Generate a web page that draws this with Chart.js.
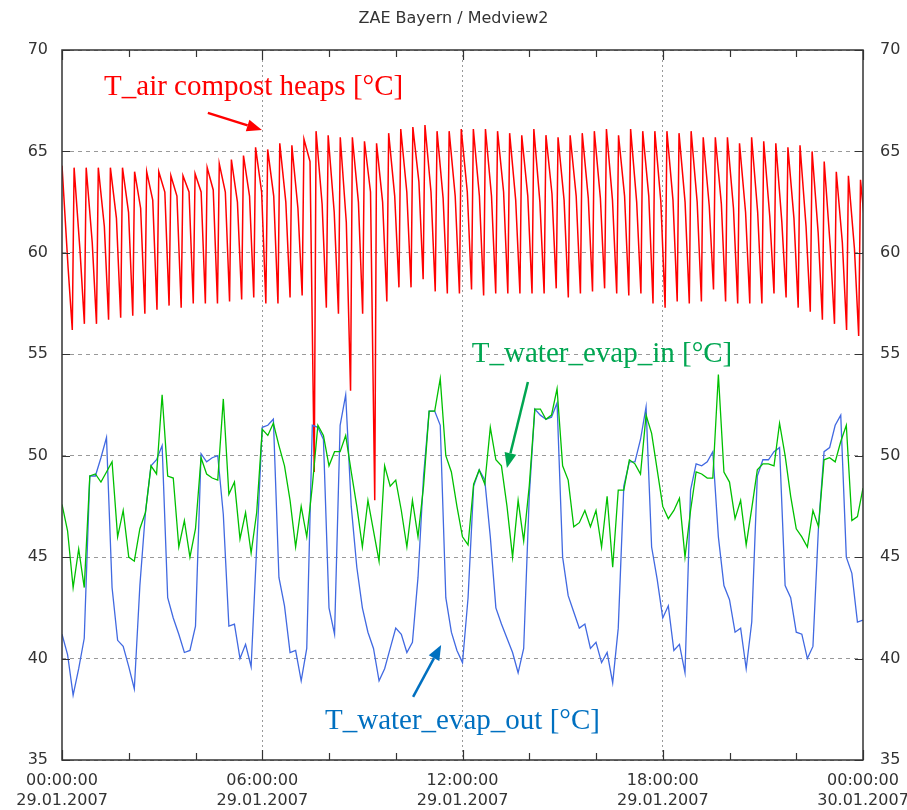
<!DOCTYPE html>
<html>
<head>
<meta charset="utf-8">
<script src="https://cdn.jsdelivr.net/npm/chart.js@4.4.1/dist/chart.umd.min.js"></script>
<style>
  html, body { margin: 0; padding: 0; background: #fff; }
  #wrap { width: 907px; height: 810px; }
</style>
</head>
<body>
<div id="wrap"><canvas id="chart" width="907" height="810"></canvas></div>
<script>
// T_air compost heaps: one peak / shoulder / trough per heating cycle (~21.75 min)
const airPeak = [64.3,64.2,64.2,64.2,64.2,64.2,64.0,64.0,64.0,63.8, 63.8,63.9,64.2,64.4,64.6,64.8,65.2,65.1,65.4,65.3,
  65.6,66.0,65.8,65.7,65.7,65.5,65.4,65.9,66.1,66.2, 66.3,66.0,66.0,66.1,66.1,66.1,66.0,65.9,65.8,66.1,
  65.8,65.7,65.8,65.9,66.0,66.1,65.8,66.1,66.0,66.0, 66.0,65.9,66.0,65.7,65.7,65.7,65.4,65.7,65.5,65.4,
  65.2,65.3,65.0,64.5,64.0,63.8,63.6];
const airShoulder = [59.3,60.0,60.5,61.3,61.7,62.0,62.2,62.6,63.0,62.8, 63.0,63.0,63.1,63.0,62.5,62.8,63.0,62.8,62.5,62.2,
  64.5,62.4,62.0,61.5,62.5,63.0,62.5,62.8,63.0,63.5, 63.0,62.7,62.8,63.0,62.8,62.8,63.0,62.6,62.8,62.5,
  62.9,62.6,62.8,62.7,62.7,62.6,62.8,62.5,62.8,62.5, 62.6,62.5,62.5,62.3,62.4,62.2,62.0,62.0,61.8,61.5,
  61.7,61.3,61.0,60.3,60.5,60.2,60.5];
const airTrough = [56.2,56.5,56.5,56.7,56.8,56.9,57.0,57.2,57.4,57.3, 57.5,57.5,57.5,57.6,57.7,57.8,57.5,57.5,57.8,57.9,
  49.2,57.3,57.0,53.2,57.0,47.8,57.6,58.3,58.3,58.7, 58.1,58.0,58.0,58.2,57.9,58.0,58.0,58.0,58.0,58.0,
  58.25,57.8,58.0,58.1,58.25,58.0,57.9,58.0,57.5,57.3, 57.6,57.5,57.6,58.2,57.6,57.5,57.5,57.5,58.0,57.8,
  57.3,57.1,56.7,56.5,56.2,55.9,56.9];
const airCycleMin = 21.75;
const airPhase = [0, 0.5, 0.85];

// water temperatures, one value every 10 minutes from 00:00 to 24:00
const evapIn = [47.6,46.3,43.5,45.4,43.5,49.0,49.1,48.7,49.2,49.7,46.0,47.3,45.0,44.8,46.4,47.2,49.5,49.1,53.0,49.0,48.9,45.5,46.8,45.0,46.4,49.9,49.1,48.9,48.8,52.8,48.1,48.7,45.9,47.2,45.2,47.2,51.3,
  51.0,51.6,50.5,49.5,47.8,45.5,47.5,46.0,48.5,51.5,51.0,49.5,50.2,50.2,51.0,49.2,47.5,45.5,47.8,46.3,44.8,49.5,48.5,48.8,47.3,45.5,47.8,46.0,48.5,52.2,52.2,53.8,50.0,49.2,47.5,
  46.0,45.6,48.6,49.3,48.6,51.4,49.8,49.5,47.5,45.0,47.8,45.8,48.5,52.3,52.3,51.8,52.0,53.3,
  49.5,48.8,46.5,46.7,47.3,46.5,47.3,45.5,48.0,44.5,48.3,48.3,49.8,49.6,49.1,52.0,51.1,49.3,47.5,46.9,47.3,47.9,45.0,47.3,49.2,49.1,48.9,48.9,54.0,49.2,48.7,46.9,47.8,45.6,47.4,49.3,49.6,49.6,49.5,51.6,50.0,48.0,46.4,46.0,45.5,47.3,46.5,49.8,49.9,49.7,50.7,51.5,46.8,47.0,48.4];
const evapOut = [41.2,40.2,38.2,39.5,41.0,49.0,49.0,49.9,50.9,43.5,40.9,40.6,39.6,38.5,43.6,47.2,49.5,49.8,50.5,43.0,42.0,41.2,40.3,40.4,41.6,50.1,49.7,49.9,50.0,47.1,41.6,41.7,40.0,40.7,39.6,45.5,51.4,
  51.5,51.8,44.0,42.6,40.3,40.4,38.9,40.5,51.5,51.4,50.8,42.5,41.2,51.5,53.0,47.5,44.5,42.5,41.3,40.5,38.9,39.5,40.5,41.5,41.2,40.3,40.8,44.0,49.0,52.2,52.2,51.5,43.0,41.3,40.4,
  39.8,43.0,48.5,49.3,48.8,46.0,42.5,41.7,41.0,40.3,39.3,40.5,48.0,52.3,52.0,51.8,51.9,52.6,
  45.0,43.1,42.3,41.5,41.7,40.5,40.8,39.8,40.3,38.8,41.5,48.5,49.7,49.7,50.8,52.4,45.5,43.9,42.0,42.6,40.4,40.7,39.3,48.3,49.6,49.5,49.7,50.2,46.0,43.6,42.9,41.3,41.5,39.5,41.8,49.0,49.8,49.8,50.2,50.4,43.6,43.0,41.3,41.2,40.0,40.6,46.5,50.2,50.4,51.5,52.0,45.0,44.2,41.8,41.9];
const waterStepMin = 10;

const timeLabels = ['00:00:00', '06:00:00', '12:00:00', '18:00:00', '00:00:00'];
const dateLabels = ['29.01.2007', '29.01.2007', '29.01.2007', '29.01.2007', '30.01.2007'];

// annotations in data units (hours, °C)
const notes = [
  { text: 'T_air compost heaps [°C]', color: '#ff0000', at: [1.26, 68.18], from: [4.37, 66.9], to: [5.99, 66.06] },
  { text: 'T_water_evap_in [°C]', color: '#00a651', at: [12.28, 55.01], from: [13.96, 53.63], to: [13.33, 49.4] },
  { text: 'T_water_evap_out [°C]', color: '#0070c0', at: [7.88, 36.92], from: [10.52, 38.11], to: [11.36, 40.67] }
];

const airPoints = [];
airPeak.forEach((p, i) => {
  [p, airShoulder[i], airTrough[i]].forEach((v, j) => {
    airPoints.push({ x: (i + airPhase[j]) * airCycleMin / 60, y: v });
  });
});
const toPoints = arr => arr.map((v, k) => ({ x: k * waterStepMin / 60, y: v }));

const isMajor = v => Math.abs(v / 6 - Math.round(v / 6)) < 1e-6;

const framePlugin = {
  id: 'frame',
  afterDatasetsDraw(chart) {
    const { ctx, chartArea: a, scales } = chart;
    ctx.save();
    ctx.strokeStyle = '#333';
    ctx.lineWidth = 1.5;
    ctx.strokeRect(a.left, a.top, a.right - a.left, a.bottom - a.top);
    ctx.lineWidth = 1.2;
    ctx.beginPath();
    scales.x.ticks.forEach(t => {
      const px = Math.round(scales.x.getPixelForValue(t.value)) + 0.5;
      const len = isMajor(t.value) ? 10 : 7;
      ctx.moveTo(px, a.bottom); ctx.lineTo(px, a.bottom - len);
      ctx.moveTo(px, a.top); ctx.lineTo(px, a.top + len);
    });
    scales.y.ticks.forEach(t => {
      const py = Math.round(scales.y.getPixelForValue(t.value)) + 0.5;
      ctx.moveTo(a.left, py); ctx.lineTo(a.left + 8, py);
      ctx.moveTo(a.right, py); ctx.lineTo(a.right - 8, py);
    });
    ctx.stroke();
    ctx.restore();
  }
};

const notePlugin = {
  id: 'notes',
  afterDraw(chart) {
    const { ctx, scales } = chart;
    const px = p => [scales.x.getPixelForValue(p[0]), scales.y.getPixelForValue(p[1])];
    ctx.save();
    notes.forEach(n => {
      const [tx, ty] = px(n.at);
      ctx.fillStyle = n.color;
      ctx.font = '29px "Liberation Serif", "Times New Roman", serif';
      ctx.textAlign = 'left';
      ctx.textBaseline = 'middle';
      ctx.fillText(n.text, tx, ty);

      const [x0, y0] = px(n.from);
      const [x1, y1] = px(n.to);
      const ang = Math.atan2(y1 - y0, x1 - x0);
      const head = 15, half = 6;
      const bx = x1 - head * Math.cos(ang), by = y1 - head * Math.sin(ang);
      ctx.strokeStyle = n.color;
      ctx.lineWidth = 2.5;
      ctx.beginPath();
      ctx.moveTo(x0, y0);
      ctx.lineTo(bx, by);
      ctx.stroke();
      ctx.beginPath();
      ctx.moveTo(x1, y1);
      ctx.lineTo(bx + half * Math.sin(ang), by - half * Math.cos(ang));
      ctx.lineTo(bx - half * Math.sin(ang), by + half * Math.cos(ang));
      ctx.closePath();
      ctx.fill();
    });
    ctx.restore();
  }
};

const tickFont = { family: 'DejaVu Sans', size: 16, lineHeight: 1.3 };

new Chart(document.getElementById('chart'), {
  type: 'line',
  data: {
    datasets: [
      { label: 'T_water_evap_in', data: toPoints(evapIn), borderColor: '#00c000', borderWidth: 1.3, pointRadius: 0, tension: 0 },
      { label: 'T_water_evap_out', data: toPoints(evapOut), borderColor: '#4169e1', borderWidth: 1.3, pointRadius: 0, tension: 0 },
      { label: 'T_air compost heaps', data: airPoints, borderColor: '#ff0000', borderWidth: 1.5, pointRadius: 0, tension: 0 }
    ]
  },
  options: {
    responsive: false,
    animation: false,
    devicePixelRatio: 1,
    layout: { padding: 0 },
    plugins: {
      legend: { display: false },
      tooltip: { enabled: false },
      title: {
        display: true,
        text: 'ZAE Bayern / Medview2',
        color: '#333',
        font: { family: 'DejaVu Sans', size: 16, weight: 'normal' },
        padding: { top: 9, bottom: 21.8 }
      }
    },
    scales: {
      x: {
        type: 'linear',
        min: 0,
        max: 24,
        afterFit(s) { s.height = 50; s.paddingLeft = 0; s.paddingRight = 0; },
        ticks: {
          stepSize: 2,
          autoSkip: false,
          maxRotation: 0,
          padding: 10,
          color: '#333',
          font: tickFont,
          callback: v => isMajor(v) ? [timeLabels[Math.round(v / 6)], dateLabels[Math.round(v / 6)]] : ''
        },
        grid: {
          color: c => (c.tick && isMajor(c.tick.value) && c.tick.value > 0 && c.tick.value < 24) ? '#999' : 'rgba(0,0,0,0)',
          drawTicks: false,
          lineWidth: 1
        },
        border: { display: false, dash: [2, 3] }
      },
      y: {
        position: 'left',
        min: 35,
        max: 70,
        afterFit(s) { s.width = 62; },
        ticks: { stepSize: 5, padding: 14, color: '#333', font: tickFont },
        grid: { color: '#999', drawTicks: false, lineWidth: 1 },
        border: { display: false, dash: [4, 4] }
      },
      y2: {
        position: 'right',
        min: 35,
        max: 70,
        afterFit(s) { s.width = 44; },
        ticks: { stepSize: 5, padding: 17, color: '#333', font: tickFont },
        grid: { drawOnChartArea: false, drawTicks: false },
        border: { display: false }
      }
    }
  },
  plugins: [framePlugin, notePlugin]
});
</script>
</body>
</html>
